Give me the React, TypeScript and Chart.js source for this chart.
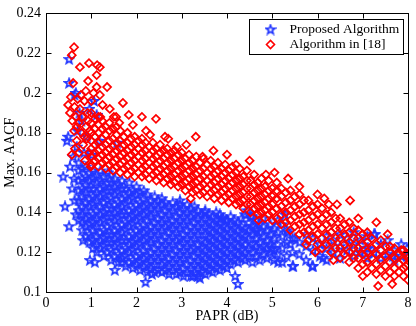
import React, { useEffect, useRef } from 'react';
import { Chart, registerables } from 'chart.js';

Chart.register(...registerables);

const seriesNames = ['Proposed Algorithm', 'Algorithm in [18]'];
const xTicks = [0, 1, 2, 3, 4, 5, 6, 7, 8];
const yTicks = [0.1, 0.12, 0.14, 0.16, 0.18, 0.2, 0.22, 0.24];
const xTitle = 'PAPR (dB)';
const yTitle = 'Max. AACF';

// Proposed Algorithm: columns of points (PAPR, [AACF values])
const proposedColumns: [number, number[]][] = [
  [0.72, [0.136, 0.141, 0.146, 0.151, 0.156, 0.161, 0.165]],
  [0.80, [0.131, 0.135, 0.139, 0.143, 0.148, 0.152, 0.157, 0.162]],
  [0.88, [0.128, 0.133, 0.137, 0.141, 0.145, 0.150, 0.154, 0.158, 0.163]],
  [0.96, [0.125, 0.129, 0.134, 0.138, 0.143, 0.147, 0.152, 0.156, 0.160]],
  [1.04, [0.122, 0.126, 0.131, 0.135, 0.139, 0.144, 0.148, 0.152, 0.157, 0.161]],
  [1.12, [0.120, 0.124, 0.128, 0.133, 0.137, 0.141, 0.146, 0.150, 0.155, 0.159]],
  [1.20, [0.122, 0.126, 0.130, 0.135, 0.139, 0.143, 0.148, 0.152, 0.156, 0.161]],
  [1.28, [0.118, 0.123, 0.127, 0.131, 0.136, 0.140, 0.145, 0.149, 0.153, 0.158]],
  [1.36, [0.120, 0.125, 0.129, 0.133, 0.138, 0.142, 0.146, 0.151, 0.155, 0.160]],
  [1.44, [0.116, 0.121, 0.125, 0.129, 0.134, 0.138, 0.142, 0.147, 0.151, 0.155, 0.159]],
  [1.52, [0.118, 0.123, 0.127, 0.131, 0.136, 0.140, 0.144, 0.149, 0.153, 0.157]],
  [1.60, [0.115, 0.119, 0.124, 0.128, 0.132, 0.137, 0.141, 0.145, 0.150, 0.154]],
  [1.68, [0.117, 0.121, 0.126, 0.130, 0.134, 0.139, 0.143, 0.147, 0.152, 0.156]],
  [1.76, [0.113, 0.118, 0.122, 0.126, 0.131, 0.135, 0.139, 0.144, 0.148, 0.152]],
  [1.84, [0.115, 0.120, 0.124, 0.128, 0.133, 0.137, 0.141, 0.146, 0.150, 0.155]],
  [1.92, [0.112, 0.116, 0.121, 0.125, 0.129, 0.134, 0.138, 0.142, 0.147, 0.151]],
  [2.00, [0.114, 0.118, 0.123, 0.127, 0.131, 0.136, 0.140, 0.144, 0.149, 0.153]],
  [2.08, [0.111, 0.115, 0.119, 0.124, 0.128, 0.132, 0.137, 0.141, 0.145, 0.150]],
  [2.16, [0.113, 0.117, 0.121, 0.126, 0.130, 0.134, 0.139, 0.143, 0.147, 0.151]],
  [2.24, [0.110, 0.114, 0.118, 0.123, 0.127, 0.131, 0.136, 0.140, 0.144, 0.149]],
  [2.32, [0.112, 0.116, 0.120, 0.125, 0.129, 0.133, 0.138, 0.142, 0.146]],
  [2.40, [0.110, 0.114, 0.118, 0.122, 0.127, 0.131, 0.135, 0.140, 0.144, 0.148]],
  [2.48, [0.111, 0.116, 0.120, 0.124, 0.129, 0.133, 0.137, 0.142, 0.146]],
  [2.56, [0.110, 0.114, 0.118, 0.122, 0.126, 0.131, 0.135, 0.139, 0.144, 0.147]],
  [2.64, [0.111, 0.115, 0.120, 0.124, 0.128, 0.133, 0.137, 0.141, 0.145]],
  [2.72, [0.109, 0.113, 0.117, 0.122, 0.126, 0.130, 0.134, 0.139, 0.143]],
  [2.80, [0.111, 0.115, 0.119, 0.124, 0.128, 0.132, 0.136, 0.141, 0.145]],
  [2.88, [0.109, 0.113, 0.117, 0.121, 0.126, 0.130, 0.134, 0.138, 0.143]],
  [2.96, [0.110, 0.115, 0.119, 0.123, 0.127, 0.132, 0.136, 0.140, 0.144]],
  [3.04, [0.108, 0.112, 0.117, 0.121, 0.125, 0.129, 0.134, 0.138, 0.142]],
  [3.12, [0.110, 0.114, 0.119, 0.123, 0.127, 0.131, 0.136, 0.140, 0.144]],
  [3.20, [0.108, 0.112, 0.116, 0.121, 0.125, 0.129, 0.133, 0.138, 0.142]],
  [3.28, [0.110, 0.114, 0.118, 0.122, 0.127, 0.131, 0.135, 0.139, 0.143]],
  [3.36, [0.108, 0.112, 0.116, 0.120, 0.124, 0.129, 0.133, 0.137, 0.141]],
  [3.44, [0.110, 0.114, 0.118, 0.122, 0.126, 0.131, 0.135, 0.139]],
  [3.52, [0.109, 0.113, 0.117, 0.121, 0.125, 0.129, 0.133, 0.137, 0.141]],
  [3.60, [0.111, 0.115, 0.119, 0.123, 0.127, 0.131, 0.135, 0.139]],
  [3.68, [0.110, 0.114, 0.118, 0.122, 0.126, 0.130, 0.134, 0.138]],
  [3.76, [0.112, 0.116, 0.120, 0.124, 0.128, 0.132, 0.136, 0.140]],
  [3.84, [0.111, 0.115, 0.119, 0.123, 0.127, 0.131, 0.135, 0.139]],
  [3.92, [0.113, 0.117, 0.121, 0.125, 0.129, 0.133, 0.137]],
  [4.00, [0.112, 0.116, 0.120, 0.124, 0.128, 0.132, 0.136]],
  [4.08, [0.114, 0.118, 0.122, 0.126, 0.130, 0.134, 0.138]],
  [4.16, [0.116, 0.120, 0.124, 0.128, 0.132, 0.136]],
  [4.24, [0.115, 0.119, 0.123, 0.127, 0.131, 0.135]],
  [4.32, [0.117, 0.121, 0.125, 0.129, 0.133, 0.137]],
  [4.40, [0.116, 0.120, 0.124, 0.128, 0.132, 0.139]],
  [4.48, [0.118, 0.122, 0.127, 0.131, 0.135]],
  [4.56, [0.115, 0.120, 0.124, 0.129, 0.133, 0.138]],
  [4.64, [0.118, 0.123, 0.127, 0.132, 0.136]],
  [4.72, [0.116, 0.121, 0.125, 0.130, 0.134]],
  [4.80, [0.119, 0.123, 0.128, 0.133, 0.137]],
  [4.88, [0.117, 0.122, 0.126, 0.131]],
  [4.96, [0.120, 0.124, 0.129, 0.134]],
  [5.04, [0.116, 0.121, 0.127, 0.132]],
  [5.12, [0.119, 0.124, 0.130, 0.136]],
  [5.22, [0.115, 0.122, 0.128, 0.134]],
  [5.32, [0.118, 0.125, 0.131]],
  [5.45, [0.113, 0.120, 0.127]],
  [5.60, [0.119, 0.125]],
  [5.75, [0.116, 0.123, 0.129]],
  [5.90, [0.113, 0.121, 0.127]],
  [6.05, [0.118, 0.124]],
  [6.20, [0.116, 0.122, 0.128]],
  [6.35, [0.120, 0.126]],
  [6.50, [0.117, 0.123, 0.129]],
  [6.65, [0.121, 0.127]],
  [6.80, [0.118, 0.124, 0.130]],
  [6.95, [0.120, 0.126]],
  [7.10, [0.117, 0.122, 0.128]],
  [7.25, [0.120, 0.129]],
  [7.40, [0.117, 0.124]],
  [7.55, [0.119, 0.126]],
  [7.70, [0.116, 0.121]],
  [7.85, [0.118, 0.124]],
  [7.98, [0.118]],
];

// Proposed Algorithm: isolated points
const proposedExtra: [number, number][] = [
  [0.51, 0.217], [0.51, 0.205], [0.66, 0.200], [0.63, 0.199], [1.06, 0.196], [1.12, 0.189],
  [0.49, 0.178], [0.46, 0.176], [0.68, 0.173], [1.57, 0.175], [0.78, 0.186], [0.74, 0.190],
  [0.96, 0.192], [0.70, 0.181], [0.90, 0.178], [1.18, 0.176], [0.84, 0.170], [1.02, 0.169],
  [0.60, 0.168], [0.53, 0.163], [0.38, 0.158], [0.58, 0.152], [0.42, 0.143], [0.51, 0.133],
  [0.63, 0.146], [0.66, 0.139], [0.62, 0.157], [0.82, 0.126], [0.97, 0.116], [1.08, 0.115],
  [1.52, 0.111], [1.67, 0.115], [2.20, 0.105], [2.34, 0.109], [3.25, 0.108], [3.40, 0.107],
  [4.18, 0.108], [4.24, 0.104], [2.96, 0.146], [3.51, 0.140], [3.98, 0.136], [4.53, 0.138],
  [4.66, 0.131], [4.99, 0.122], [5.13, 0.115], [5.28, 0.139], [5.46, 0.113], [5.88, 0.113],
  [6.12, 0.117], [6.94, 0.120], [7.12, 0.122], [7.27, 0.129], [7.67, 0.118], [7.98, 0.122],
  [5.35, 0.130], [5.50, 0.127], [5.40, 0.124], [4.45, 0.141], [3.87, 0.137],
];

// Algorithm in [18]: columns of points (PAPR, [AACF values])
const ref18Columns: [number, number[]][] = [
  [1.00, [0.164, 0.168, 0.172, 0.176, 0.180, 0.185, 0.190]],
  [1.08, [0.166, 0.170, 0.174, 0.178, 0.182, 0.187]],
  [1.16, [0.163, 0.167, 0.171, 0.175, 0.180, 0.184, 0.188]],
  [1.24, [0.165, 0.169, 0.173, 0.177, 0.182, 0.186]],
  [1.32, [0.162, 0.166, 0.170, 0.174, 0.179, 0.183]],
  [1.40, [0.164, 0.168, 0.172, 0.176, 0.181, 0.185]],
  [1.48, [0.161, 0.165, 0.169, 0.173, 0.177, 0.182]],
  [1.56, [0.163, 0.167, 0.171, 0.175, 0.179, 0.183]],
  [1.64, [0.160, 0.164, 0.168, 0.172, 0.176, 0.181]],
  [1.72, [0.162, 0.166, 0.170, 0.174, 0.178]],
  [1.80, [0.159, 0.163, 0.167, 0.171, 0.175, 0.180]],
  [1.88, [0.161, 0.165, 0.169, 0.173, 0.177]],
  [1.96, [0.158, 0.162, 0.166, 0.170, 0.174, 0.178]],
  [2.04, [0.160, 0.164, 0.168, 0.172, 0.176]],
  [2.12, [0.158, 0.162, 0.166, 0.170, 0.174, 0.177]],
  [2.20, [0.159, 0.163, 0.167, 0.171, 0.175]],
  [2.28, [0.157, 0.161, 0.165, 0.169, 0.173]],
  [2.36, [0.159, 0.163, 0.167, 0.171, 0.175]],
  [2.44, [0.156, 0.160, 0.164, 0.168, 0.172]],
  [2.52, [0.158, 0.162, 0.166, 0.170, 0.174]],
  [2.60, [0.155, 0.159, 0.163, 0.167, 0.171]],
  [2.68, [0.157, 0.161, 0.165, 0.169, 0.172]],
  [2.76, [0.154, 0.158, 0.162, 0.166, 0.170]],
  [2.84, [0.155, 0.159, 0.163, 0.167, 0.171]],
  [2.92, [0.153, 0.157, 0.161, 0.165, 0.169]],
  [3.00, [0.154, 0.158, 0.162, 0.166, 0.170]],
  [3.08, [0.151, 0.155, 0.159, 0.163, 0.167]],
  [3.16, [0.153, 0.157, 0.161, 0.165, 0.169]],
  [3.24, [0.150, 0.154, 0.158, 0.162, 0.166]],
  [3.32, [0.151, 0.155, 0.159, 0.163, 0.168]],
  [3.40, [0.149, 0.153, 0.157, 0.161, 0.165]],
  [3.48, [0.150, 0.154, 0.158, 0.162, 0.167]],
  [3.56, [0.148, 0.152, 0.156, 0.160, 0.164]],
  [3.64, [0.150, 0.154, 0.158, 0.162, 0.166]],
  [3.72, [0.147, 0.151, 0.155, 0.159, 0.163]],
  [3.80, [0.149, 0.153, 0.157, 0.161, 0.165]],
  [3.88, [0.146, 0.150, 0.154, 0.158, 0.162]],
  [3.96, [0.148, 0.152, 0.156, 0.160, 0.164]],
  [4.04, [0.145, 0.149, 0.153, 0.157, 0.161]],
  [4.12, [0.147, 0.151, 0.155, 0.159, 0.163]],
  [4.20, [0.144, 0.148, 0.152, 0.156, 0.160]],
  [4.28, [0.145, 0.149, 0.153, 0.157, 0.162]],
  [4.36, [0.142, 0.146, 0.150, 0.154, 0.158]],
  [4.44, [0.144, 0.148, 0.152, 0.156, 0.161]],
  [4.52, [0.140, 0.144, 0.148, 0.152, 0.156]],
  [4.60, [0.142, 0.146, 0.150, 0.154, 0.159]],
  [4.68, [0.139, 0.143, 0.147, 0.151, 0.155]],
  [4.76, [0.140, 0.144, 0.148, 0.152, 0.157]],
  [4.84, [0.137, 0.141, 0.145, 0.149, 0.153]],
  [4.92, [0.139, 0.143, 0.147, 0.151, 0.156]],
  [5.00, [0.136, 0.140, 0.144, 0.148, 0.152]],
  [5.10, [0.137, 0.142, 0.147, 0.151, 0.155]],
  [5.20, [0.134, 0.139, 0.143, 0.148, 0.152]],
  [5.30, [0.135, 0.140, 0.145, 0.150]],
  [5.40, [0.131, 0.136, 0.141, 0.146, 0.151]],
  [5.50, [0.133, 0.138, 0.143, 0.148]],
  [5.60, [0.129, 0.134, 0.139, 0.144, 0.149]],
  [5.70, [0.130, 0.135, 0.140, 0.146]],
  [5.80, [0.126, 0.131, 0.136, 0.141, 0.146]],
  [5.90, [0.128, 0.133, 0.138, 0.143]],
  [6.00, [0.124, 0.129, 0.134, 0.139, 0.144]],
  [6.10, [0.122, 0.127, 0.132, 0.137, 0.142]],
  [6.20, [0.124, 0.129, 0.134, 0.139]],
  [6.30, [0.120, 0.125, 0.130, 0.135, 0.140]],
  [6.40, [0.122, 0.127, 0.132, 0.137]],
  [6.50, [0.117, 0.122, 0.127, 0.132, 0.137]],
  [6.60, [0.119, 0.124, 0.129, 0.134]],
  [6.70, [0.115, 0.120, 0.125, 0.130, 0.135]],
  [6.80, [0.117, 0.122, 0.127, 0.132]],
  [6.90, [0.112, 0.117, 0.122, 0.127, 0.131]],
  [7.00, [0.114, 0.119, 0.124, 0.129]],
  [7.10, [0.110, 0.115, 0.120, 0.125, 0.130]],
  [7.20, [0.112, 0.117, 0.122, 0.127]],
  [7.30, [0.109, 0.114, 0.119, 0.124]],
  [7.40, [0.111, 0.116, 0.121, 0.126]],
  [7.50, [0.108, 0.113, 0.118, 0.123]],
  [7.60, [0.110, 0.115, 0.120]],
  [7.70, [0.108, 0.112, 0.117, 0.122]],
  [7.80, [0.110, 0.114, 0.119]],
  [7.90, [0.108, 0.112, 0.116, 0.121]],
  [8.00, [0.110, 0.114, 0.119]],
];

// Algorithm in [18]: isolated points
const ref18Extra: [number, number][] = [
  [0.62, 0.223], [0.57, 0.219], [0.75, 0.213], [0.95, 0.215], [1.13, 0.214], [1.19, 0.213],
  [1.12, 0.209], [0.93, 0.206], [0.60, 0.205], [1.12, 0.203], [1.35, 0.203], [1.19, 0.199],
  [0.49, 0.194], [1.70, 0.195], [1.41, 0.192], [1.83, 0.189], [2.12, 0.188], [2.43, 0.187],
  [2.21, 0.181], [1.92, 0.184], [3.31, 0.178], [2.70, 0.177], [2.89, 0.173], [3.46, 0.168],
  [2.63, 0.178], [4.20, 0.164], [4.86, 0.159], [5.35, 0.157], [6.00, 0.149], [6.25, 0.144],
  [6.43, 0.144], [6.72, 0.146], [7.30, 0.135], [7.34, 0.103], [8.00, 0.106], [7.60, 0.123],
  [7.85, 0.121], [8.00, 0.117],
  [0.53, 0.190], [0.58, 0.186], [0.55, 0.198], [0.63, 0.193], [0.66, 0.188], [0.62, 0.181],
  [0.68, 0.176], [0.70, 0.197], [0.72, 0.185], [0.75, 0.192], [0.73, 0.170], [0.78, 0.180],
  [0.80, 0.188], [0.82, 0.174], [0.85, 0.196], [0.86, 0.166], [0.88, 0.183], [0.90, 0.177],
  [0.92, 0.190], [0.95, 0.170], [0.97, 0.181], [0.99, 0.163], [0.64, 0.172], [0.77, 0.199],
  [0.84, 0.178], [0.93, 0.186], [0.57, 0.169], [0.68, 0.183], [0.88, 0.201], [1.00, 0.196],
  [1.05, 0.200], [1.25, 0.194], [1.50, 0.188], [1.62, 0.185], [1.20, 0.188],
  [1.55, 0.188], [2.30, 0.179], [3.10, 0.174], [3.70, 0.171], [4.00, 0.169], [4.50, 0.166],
  [5.05, 0.160], [5.60, 0.153], [6.15, 0.147], [6.90, 0.137], [7.55, 0.129], [5.75, 0.124],
  [6.35, 0.116], [7.00, 0.108], [7.65, 0.104], [7.95, 0.113], [3.20, 0.147], [4.70, 0.136],
  [5.95, 0.120],
];

const BLUE = '#2236ff';
const RED = '#ff0000';
const FONT_FAMILY = "'Liberation Serif', 'Times New Roman', serif";

function toPoints(cols: [number, number[]][], extra: [number, number][]) {
  const pts: { x: number; y: number }[] = [];
  cols.forEach(([x, ys]) => ys.forEach((y) => pts.push({ x, y })));
  extra.forEach(([x, y]) => pts.push({ x, y }));
  return pts;
}

function makeStar(color: string): HTMLCanvasElement {
  const c = document.createElement('canvas');
  c.width = 12;
  c.height = 12;
  const g = c.getContext('2d')!;
  g.strokeStyle = color;
  g.lineWidth = 1.6;
  g.lineJoin = 'miter';
  g.beginPath();
  const cx = 6, cy = 6.3, R = 4.8, r = 2.0;
  for (let i = 0; i < 10; i++) {
    const a = -Math.PI / 2 + (i * Math.PI) / 5;
    const rad = i % 2 === 0 ? R : r;
    const px = cx + rad * Math.cos(a);
    const py = cy + rad * Math.sin(a);
    if (i === 0) g.moveTo(px, py);
    else g.lineTo(px, py);
  }
  g.closePath();
  g.stroke();
  return c;
}

export default function App() {
  const ref = useRef<HTMLCanvasElement | null>(null);

  useEffect(() => {
    document.body.style.margin = '0';
    const canvas = ref.current!;
    const star = makeStar(BLUE);

    const framePlugin = {
      id: 'matlabFrame',
      afterDraw(chart: any) {
        const { ctx, chartArea } = chart;
        const xs = chart.scales.x;
        const ys = chart.scales.y;
        const L = Math.round(chartArea.left) + 0.5;
        const R = Math.round(chartArea.right) + 0.5;
        const T = Math.round(chartArea.top) + 0.5;
        const B = Math.round(chartArea.bottom) + 0.5;
        ctx.save();
        ctx.strokeStyle = '#000';
        ctx.lineWidth = 1;
        ctx.strokeRect(L, T, R - L, B - T);
        ctx.beginPath();
        const tl = 5;
        xTicks.forEach((v) => {
          const px = Math.round(xs.getPixelForValue(v)) + 0.5;
          ctx.moveTo(px, B);
          ctx.lineTo(px, B - tl);
          ctx.moveTo(px, T);
          ctx.lineTo(px, T + tl);
        });
        yTicks.forEach((v) => {
          const py = Math.round(ys.getPixelForValue(v)) + 0.5;
          ctx.moveTo(L, py);
          ctx.lineTo(L + tl, py);
          ctx.moveTo(R, py);
          ctx.lineTo(R - tl, py);
        });
        ctx.stroke();

        // legend
        const lw = 154, lh = 35;
        const lx = Math.round(chartArea.right - 5 - lw) + 0.5;
        const ly = Math.round(chartArea.top + 6) + 0.5;
        ctx.fillStyle = '#fff';
        ctx.fillRect(lx, ly, lw, lh);
        ctx.strokeStyle = '#000';
        ctx.lineWidth = 1;
        ctx.strokeRect(lx, ly, lw, lh);
        ctx.drawImage(star, lx + 21 - 6, ly + 10 - 6);
        ctx.beginPath();
        const dx = lx + 21, dy = ly + 25, dr = 4;
        ctx.moveTo(dx - dr, dy);
        ctx.lineTo(dx, dy - dr);
        ctx.lineTo(dx + dr, dy);
        ctx.lineTo(dx, dy + dr);
        ctx.closePath();
        ctx.strokeStyle = RED;
        ctx.lineWidth = 1.6;
        ctx.stroke();
        ctx.fillStyle = '#000';
        ctx.font = `13.5px ${FONT_FAMILY}`;
        ctx.textBaseline = 'middle';
        ctx.textAlign = 'left';
        ctx.fillText(seriesNames[0], lx + 40, ly + 10);
        ctx.fillText(seriesNames[1], lx + 40, ly + 25);
        ctx.restore();
      },
    };

    const tickFont = { family: FONT_FAMILY, size: 14 };

    const chart = new Chart(canvas, {
      type: 'scatter',
      data: {
        datasets: [
          {
            label: seriesNames[0],
            data: toPoints(proposedColumns, proposedExtra),
            pointStyle: star as any,
            pointRadius: 5,
            borderColor: BLUE,
            backgroundColor: BLUE,
            pointBorderColor: BLUE,
            pointBackgroundColor: BLUE,
            order: 1,
          },
          {
            label: seriesNames[1],
            data: toPoints(ref18Columns, ref18Extra),
            pointStyle: 'rectRot',
            pointRadius: 4,
            borderWidth: 1.7,
            pointBorderWidth: 1.7,
            borderColor: RED,
            pointBorderColor: RED,
            backgroundColor: 'rgba(255,255,255,0)',
            pointBackgroundColor: 'rgba(255,255,255,0)',
            order: 0,
          },
        ],
      },
      options: {
        responsive: false,
        animation: false,
        events: [],
        layout: { padding: { top: 6, right: 8, left: 0, bottom: 0 } },
        plugins: {
          legend: { display: false },
          tooltip: { enabled: false },
        },
        scales: {
          x: {
            type: 'linear',
            min: 0,
            max: 8,
            afterBuildTicks: (s: any) => {
              s.ticks = xTicks.map((v) => ({ value: v }));
            },
            afterFit: (s: any) => {
              s.height = 34;
            },
            grid: { display: false, drawTicks: false },
            border: { display: false },
            ticks: {
              color: '#000',
              font: tickFont,
              padding: 3,
              maxRotation: 0,
              callback: (v: any) => String(v),
            },
            title: {
              display: true,
              text: xTitle,
              color: '#000',
              font: tickFont,
              padding: { top: 0, bottom: 1 },
            },
          },
          y: {
            type: 'linear',
            min: 0.1,
            max: 0.24,
            afterBuildTicks: (s: any) => {
              s.ticks = yTicks.map((v) => ({ value: v }));
            },
            afterFit: (s: any) => {
              s.width = 46;
            },
            grid: { display: false, drawTicks: false },
            border: { display: false },
            ticks: {
              color: '#000',
              font: tickFont,
              padding: 5,
              callback: (v: any) => String(Number(Number(v).toFixed(2))),
            },
            title: {
              display: true,
              text: yTitle,
              color: '#000',
              font: tickFont,
              padding: { top: 2, bottom: 0 },
            },
          },
        },
      },
      plugins: [framePlugin],
    });

    return () => chart.destroy();
  }, []);

  return (
    <div style={{ width: 416, height: 326 }}>
      <canvas ref={ref} width={416} height={326} style={{ display: 'block' }} />
    </div>
  );
}
